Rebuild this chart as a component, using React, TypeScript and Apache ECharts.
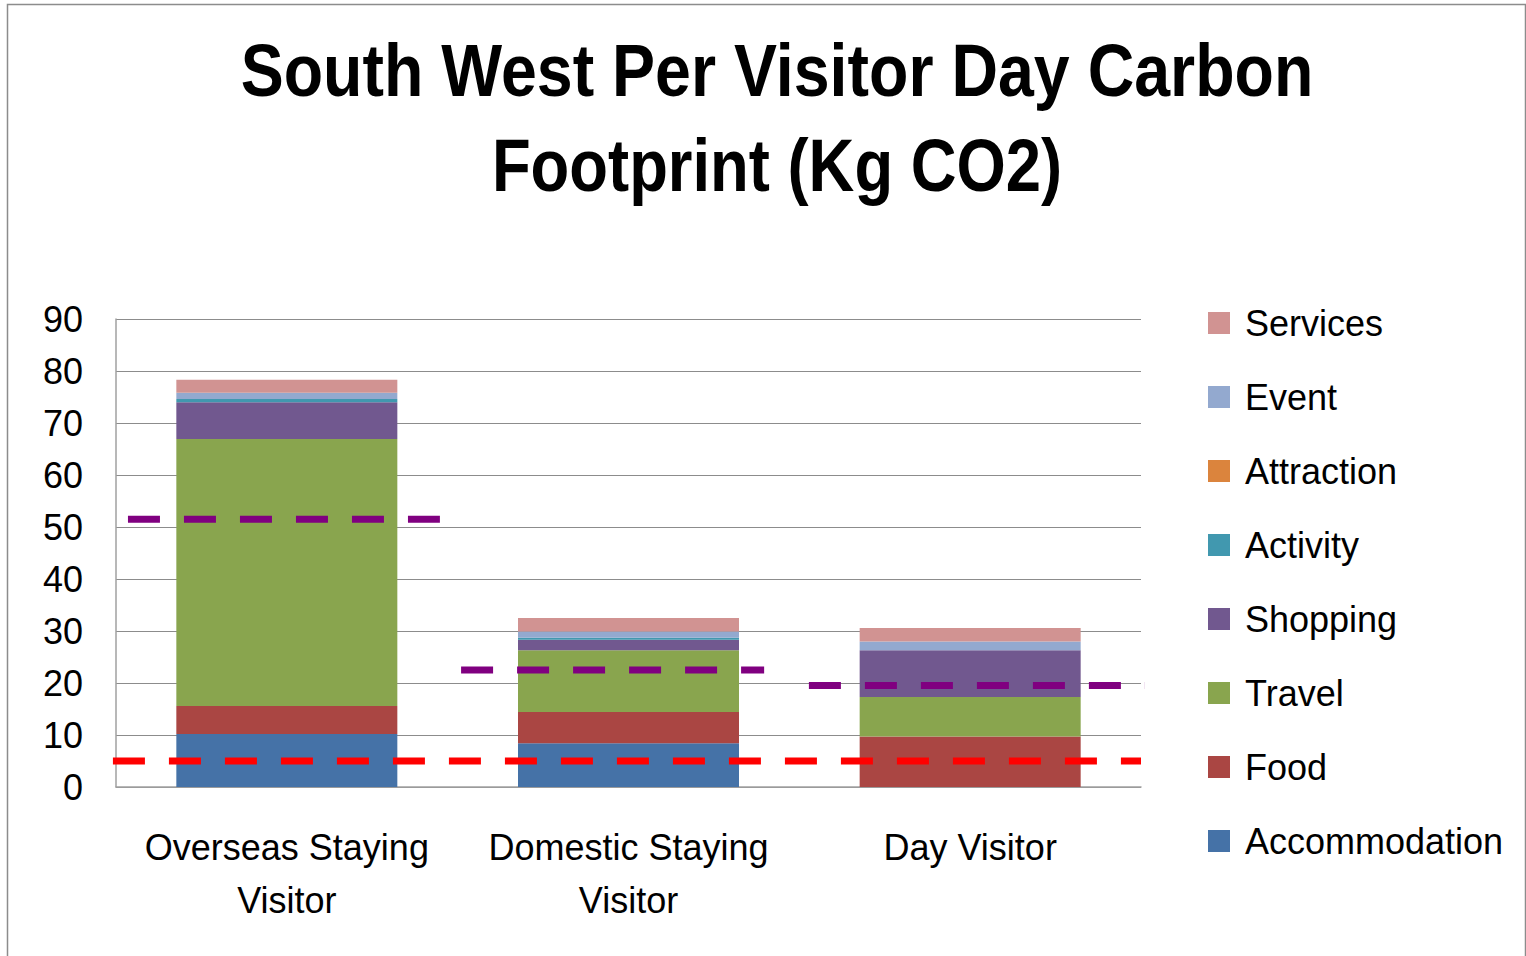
import React, { useEffect, useRef } from "react";
import * as echarts from "echarts";

const categories = ["Overseas Staying\nVisitor", "Domestic Staying\nVisitor", "Day Visitor"];
const seriesNames = ["Accommodation", "Food", "Travel", "Shopping", "Activity", "Attraction", "Event", "Services"];
const accommodation = [10.2, 8.4, 0];
const food = [5.4, 6.0, 9.7];
const travel = [51.3, 11.9, 7.6];
const shopping = [7.1, 2.0, 9.0];
const activity = [0.6, 0.4, 0];
const attraction = [0, 0, 0];
const eventVals = [1.2, 1.2, 1.7];
const services = [2.5, 2.6, 2.6];
const seriesColors = ["#4572A7", "#AA4643", "#89A54E", "#71588F", "#4198AF", "#DB843D", "#93A9CF", "#D19392"];
const averageValues = [51.5, 22.5, 19.5];
const averageSpans = [[0.035, 0.948], [1.01, 1.897], [2.028, 3.035]];
const targetValue = 5;
const targetSpan = [-0.009, 3.0];
const yTicks = { min: 0, max: 90, interval: 10 };

const FONT = "'Liberation Sans', Arial, sans-serif";

export default function App() {
  const ref = useRef<HTMLDivElement>(null);
  useEffect(() => {
    if (!ref.current) return;
    const chart = echarts.init(ref.current, undefined, { renderer: "svg" });
    const values = [accommodation, food, travel, shopping, activity, attraction, eventVals, services];
    const barSeries = seriesNames.map((name, i) => ({
      name,
      type: "bar",
      stack: "total",
      barWidth: 221,
      data: values[i],
      itemStyle: { color: seriesColors[i] },
      xAxisIndex: 0,
      z: 2,
    }));
    const avgSeries = averageValues.map((v, i) => ({
      name: "avg" + i,
      type: "line",
      xAxisIndex: 1,
      clip: false,
      symbol: "none",
      z: 5,
      lineStyle: { color: "#800080", width: 7, type: [32, 24], cap: "butt" },
      data: [[averageSpans[i][0], v], [averageSpans[i][1], v]],
    }));
    const targetSeries = {
      name: "target",
      type: "line",
      xAxisIndex: 1,
      clip: false,
      symbol: "none",
      z: 6,
      lineStyle: { color: "#FF0000", width: 7, type: [32, 24], cap: "butt" },
      data: [[targetSpan[0], targetValue], [targetSpan[1], targetValue]],
    };
    chart.setOption({
      animation: false,
      backgroundColor: "#ffffff",
      textStyle: { fontFamily: FONT },
      graphic: [
        {
          type: "rect",
          shape: { x: 7.5, y: 4.5, width: 1518, height: 1000 },
          style: { fill: "none", stroke: "#8c8c8c", lineWidth: 1.5 },
          silent: true,
        },
        {
          type: "text",
          x: 777,
          y: 70,
          scaleX: 0.86,
          style: {
            text: "South West Per Visitor Day Carbon",
            font: `bold 75px ${FONT}`,
            fill: "#000",
            textAlign: "center",
            textVerticalAlign: "middle",
          },
        },
        {
          type: "text",
          x: 777,
          y: 165,
          scaleX: 0.845,
          style: {
            text: "Footprint (Kg CO2)",
            font: `bold 75px ${FONT}`,
            fill: "#000",
            textAlign: "center",
            textVerticalAlign: "middle",
          },
        },
      ],
      legend: {
        orient: "vertical",
        left: 1203,
        top: 300,
        itemWidth: 22,
        itemHeight: 22,
        itemGap: 38,
        icon: "rect",
        data: [...seriesNames].reverse(),
        textStyle: { fontSize: 36, lineHeight: 36, color: "#000", fontFamily: FONT, padding: [0, 0, 0, 10] },
      },
      grid: { left: 116, right: 385, top: 319, bottom: 169, containLabel: false },
      xAxis: [
        {
          type: "category",
          data: categories,
          axisTick: { show: false },
          axisLine: { lineStyle: { color: "#a0a0a0", width: 1.5 } },
          axisLabel: { interval: 0, fontSize: 36, lineHeight: 53, color: "#000", margin: 34, fontFamily: FONT },
        },
        { type: "value", min: 0, max: 3, show: false },
      ],
      yAxis: {
        type: "value",
        min: yTicks.min,
        max: yTicks.max,
        interval: yTicks.interval,
        axisLine: { show: true, lineStyle: { color: "#a0a0a0", width: 1.5 } },
        axisTick: { show: false },
        splitLine: { lineStyle: { color: "#8c8c8c", width: 1 } },
        axisLabel: { fontSize: 36, color: "#000", margin: 33, fontFamily: FONT },
      },
      series: [...barSeries, ...avgSeries, targetSeries],
    });
    return () => chart.dispose();
  }, []);
  return <div ref={ref} style={{ position: "absolute", left: 0, top: 0, width: 1526, height: 956 }} />;
}
